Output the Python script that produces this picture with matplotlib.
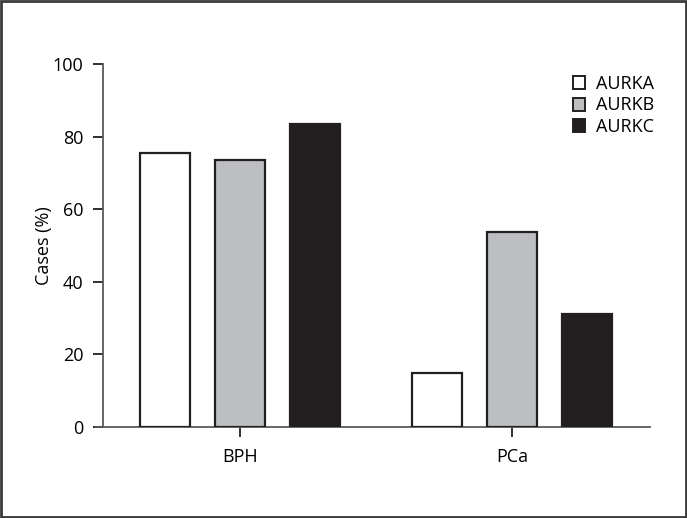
import matplotlib.pyplot as plt
import numpy as np
from matplotlib.patches import Patch

#--------------------------------
# 1. DATA
#--------------------------------
groups = ['BPH', 'PCa']
series = ['AURKA', 'AURKB', 'AURKC']
aurka = [75.5, 15.0]
aurkb = [73.5, 53.8]
aurkc = [83.6, 31.0]
yticks = [0, 20, 40, 60, 80, 100]

colors = ['white', '#bcbec0', '#231f20']

#--------------------------------
# 2. FIGURE
#--------------------------------
plt.rcParams['font.family'] = ['Open Sans', 'DejaVu Sans']
fs = 13

fig = plt.figure(figsize=(6.87, 5.18), dpi=100)
ax = fig.add_axes([96 / 687, 1 - 427 / 518, (650 - 96) / 687, (427 - 64) / 518])

x = np.arange(len(groups))
w = 0.184
off = 0.276
for i, (vals, c) in enumerate(zip([aurka, aurkb, aurkc], colors)):
    ax.bar(x + (i - 1) * off, vals, width=w, color=c, edgecolor='#231f20',
           linewidth=1.6, label=series[i], zorder=3)

ax.set_xlim(-0.529, 1.507)
ax.set_ylim(0, 100)
ax.spines['left'].set_position(('data', -0.504))
ax.spines['top'].set_visible(False)
ax.spines['right'].set_visible(False)
for s in ['left', 'bottom']:
    ax.spines[s].set_color('#58595b')
    ax.spines[s].set_linewidth(1.3)

ax.set_xticks(x)
ax.set_xticklabels(groups, fontsize=fs)
ax.set_yticks(yticks)
ax.set_yticklabels([str(t) for t in yticks], fontsize=fs)
ax.tick_params(axis='both', length=7, width=1.3, color='#231f20', pad=7)
ax.tick_params(axis='x', pad=8)
ax.set_ylabel('Cases (%)', fontsize=fs, labelpad=0)

handles = [Patch(facecolor=c, edgecolor='#231f20', linewidth=1.4) for c in colors]
leg = ax.legend(handles, series, loc='upper left', bbox_to_anchor=(0.848, 0.99),
                frameon=False, fontsize=fs, handlelength=0.65, handleheight=0.75,
                handletextpad=0.6, labelspacing=0.2, borderaxespad=0)

# outer frame
fig.patches.append(plt.Rectangle((0.002, 0.002), 0.996, 0.996, transform=fig.transFigure,
                                 fill=False, edgecolor='#3a3a3a', linewidth=2))

plt.savefig('out.png', dpi=100)
